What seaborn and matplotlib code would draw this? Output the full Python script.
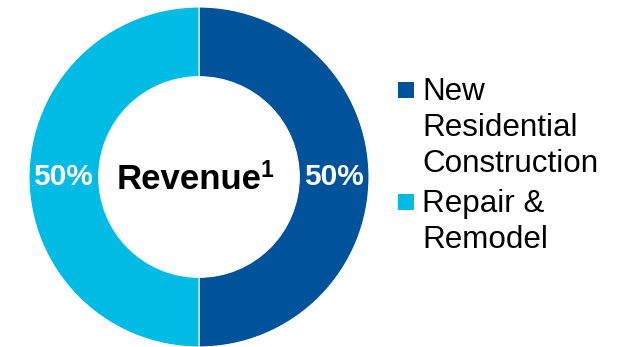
import matplotlib
matplotlib.use("Agg")
import matplotlib.pyplot as plt
from matplotlib.patches import Rectangle
import seaborn as sns

# Revenue split by end market
segments = ["New\nResidential\nConstruction", "Repair &\nRemodel"]
shares = [50, 50]
colors = ["#00539B", "#00BCE4"]
center_title = "Revenue"
center_note = "1"

sns.set_theme(style="white")
plt.rcParams["font.family"] = ["Liberation Sans", "DejaVu Sans"]

W, H, DPI = 626, 347, 100
fig = plt.figure(figsize=(W / DPI, H / DPI), dpi=DPI)
fig.patch.set_facecolor("white")

# Donut: centre at (199, 177) px from top-left, outer radius 170 px
cx, cy, R = 199, 177, 170
ax = fig.add_axes([(cx - R) / W, (H - cy - R) / H, 2 * R / W, 2 * R / H])
inner = 0.59
wedges, _, autotexts = ax.pie(
    shares,
    colors=colors,
    startangle=90,
    counterclock=False,
    radius=1.0,
    wedgeprops=dict(width=1 - inner, edgecolor="white", linewidth=0.8),
    autopct=lambda p: f"{p:.0f}%",
    pctdistance=(1 + inner) / 2,
    textprops=dict(color="white", fontsize=21.5, fontweight="bold"),
)
for t in autotexts:
    x, y = t.get_position()
    t.set_position((x - 0.008 if x < 0 else x, y))
ax.set_xlim(-1, 1)
ax.set_ylim(-1, 1)
ax.set_aspect("equal")
ax.axis("off")

# Centre label with superscript note marker
title = ax.text(-0.06, -0.07, center_title, ha="center", va="baseline",
                fontsize=25, fontweight="bold", color="black")
ax.annotate(center_note, xy=(1.0, 1.0), xycoords=title,
            xytext=(-0.5, 3), textcoords="offset points",
            ha="left", va="top", fontsize=16.5, fontweight="bold", color="black")

# Legend: colour squares beside wrapped labels
line_step = 36
first_baselines = [100, 212]
for label, col, base in zip(segments, colors, first_baselines):
    fig.patches.append(Rectangle((398 / W, (H - base + 2) / H), 16 / W, 16 / H,
                                 transform=fig.transFigure, facecolor=col,
                                 edgecolor="none"))
    for i, line in enumerate(label.split("\n")):
        fig.text(422 / W, (H - base - i * line_step) / H, line,
                 ha="left", va="baseline", fontsize=22.6, color="black")

fig.savefig("out.png", dpi=DPI, facecolor="white")
